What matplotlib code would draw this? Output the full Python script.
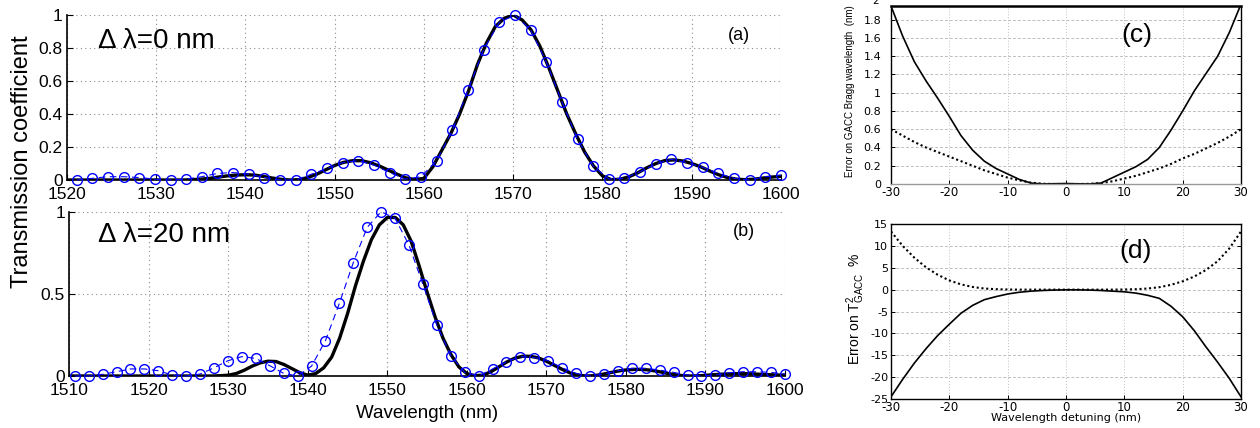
import numpy as np
import matplotlib
matplotlib.use("Agg")
import matplotlib.pyplot as plt

plt.rcParams['font.family'] = ['Liberation Sans', 'DejaVu Sans']
plt.rcParams['axes.unicode_minus'] = False
plt.rcParams['mathtext.fontset'] = 'custom'
plt.rcParams['mathtext.rm'] = 'Liberation Sans'
plt.rcParams['mathtext.it'] = 'Liberation Sans'

# ---------------- data: panel (a), delta lambda = 0 nm ----------------
wl_a = list(range(1520, 1601))
T_a = [0.0, 0.0, 0.0, 0.0, 0.0, 0.0, 0.0, 0.0, 0.0, 0.0,          # 1520-1529
       0.0, 0.0, 0.0, 0.0, 0.002, 0.005, 0.01, 0.018, 0.025, 0.03,  # 1530-1539
       0.032, 0.03, 0.022, 0.012, 0.004, 0.0, 0.002, 0.015, 0.035, 0.062,  # 1540-1549
       0.088, 0.107, 0.117, 0.117, 0.105, 0.085, 0.06, 0.035, 0.013, 0.002,  # 1550-1559
       0.01, 0.08, 0.18, 0.28, 0.40, 0.54, 0.70, 0.83, 0.93, 0.98,  # 1560-1569
       1.0, 0.97, 0.91, 0.81, 0.68, 0.54, 0.40, 0.28, 0.17, 0.085,  # 1570-1579
       0.025, 0.002, 0.005, 0.02, 0.045, 0.075, 0.1, 0.118, 0.122, 0.115,  # 1580-1589
       0.1, 0.08, 0.055, 0.032, 0.015, 0.005, 0.002, 0.005, 0.012, 0.018,  # 1590-1599
       0.022]
circ_wl_a = np.linspace(1521.1, 1600.0, 46)
circ_T_a = [0.0, 0.01, 0.02, 0.02, 0.015, 0.005, 0.0, 0.005, 0.02, 0.04,
            0.045, 0.035, 0.015, 0.0, 0.0, 0.035, 0.07, 0.105, 0.117, 0.09,
            0.045, 0.005, 0.02, 0.117, 0.30, 0.545, 0.79, 0.955, 1.0, 0.91,
            0.717, 0.475, 0.246, 0.085, 0.006, 0.01, 0.05, 0.097, 0.125, 0.105,
            0.077, 0.04, 0.01, 0.0, 0.02, 0.03]

# ---------------- data: panel (b), delta lambda = 20 nm ----------------
wl_b = list(range(1510, 1601))
T_b = [0.0, 0.0, 0.0, 0.0, 0.0, 0.0, 0.0, 0.0, 0.0, 0.0,          # 1510-1519
       0.0, 0.0, 0.0, 0.0, 0.0, 0.0, 0.0, 0.0, 0.0, 0.002,          # 1520-1529
       0.005, 0.015, 0.035, 0.06, 0.08, 0.09, 0.088, 0.07, 0.045, 0.02,  # 1530-1539
       0.005, 0.015, 0.05, 0.115, 0.23, 0.38, 0.55, 0.70, 0.83, 0.92,  # 1540-1549
       0.965, 0.965, 0.92, 0.82, 0.67, 0.51, 0.36, 0.23, 0.13, 0.055,  # 1550-1559
       0.015, 0.002, 0.005, 0.025, 0.055, 0.085, 0.108, 0.12, 0.12, 0.11,  # 1560-1569
       0.09, 0.065, 0.04, 0.018, 0.005, 0.0, 0.002, 0.01, 0.02, 0.03,  # 1570-1579
       0.037, 0.04, 0.04, 0.036, 0.028, 0.018, 0.009, 0.003, 0.0, 0.001,  # 1580-1589
       0.004, 0.008, 0.011, 0.013, 0.014, 0.014, 0.013, 0.01, 0.008, 0.006,  # 1590-1599
       0.005]
circ_wl_b = np.linspace(1510.7, 1600.0, 52)
circ_T_b = [0.0, 0.0, 0.01, 0.026, 0.043, 0.043, 0.032, 0.006, 0.0, 0.012,
            0.05, 0.093, 0.118, 0.107, 0.063, 0.016, 0.0, 0.06, 0.215, 0.442,
            0.69, 0.905, 1.0, 0.96, 0.797, 0.558, 0.31, 0.124, 0.022, 0.0,
            0.043, 0.087, 0.118, 0.112, 0.093, 0.05, 0.016, 0.0, 0.012, 0.032,
            0.047, 0.047, 0.036, 0.022, 0.006, 0.0, 0.006, 0.02, 0.026, 0.026,
            0.022, 0.012]

# ---------------- data: panels (c) and (d) ----------------
detuning = list(range(-30, 31, 2))
err_bragg_solid = [1.95, 1.62, 1.34, 1.13, 0.94, 0.74, 0.53, 0.37, 0.25, 0.17,
                   0.11, 0.05, 0.01, 0.0, 0.003, 0.005, 0.002, 0.0, 0.01, 0.07,
                   0.13, 0.19, 0.27, 0.40, 0.59, 0.80, 1.02, 1.21, 1.40, 1.66, 1.97]
err_bragg_dotted = [0.60, 0.53, 0.46, 0.40, 0.35, 0.30, 0.25, 0.20, 0.15, 0.11,
                    0.07, 0.04, 0.015, 0.003, 0.0, 0.0, 0.0, 0.002, 0.01, 0.03,
                    0.06, 0.09, 0.13, 0.17, 0.22, 0.28, 0.33, 0.39, 0.45, 0.52, 0.60]
err_T_solid = [-24.5, -20.5, -16.8, -13.5, -10.5, -7.9, -5.4, -3.6, -2.3, -1.6,
               -1.0, -0.6, -0.35, -0.2, -0.1, -0.05, -0.05, -0.1, -0.2, -0.35,
               -0.5, -0.8, -1.3, -2.0, -3.8, -6.2, -9.4, -13.1, -16.6, -20.3, -24.5]
err_T_dotted = [13.3, 10.0, 7.3, 5.1, 3.4, 2.1, 1.2, 0.6, 0.25, 0.1,
                0.03, 0.0, 0.0, 0.0, 0.0, 0.0, 0.0, 0.0, 0.0, 0.0,
                0.03, 0.1, 0.25, 0.55, 1.1, 1.9, 3.0, 4.5, 6.5, 9.4, 13.3]

W, H = 1260, 428
fig = plt.figure(figsize=(W / 100, H / 100), dpi=100)


def rect(x0, y0, x1, y1):
    # pixel box (left, top, right, bottom) -> figure fraction rect
    return [x0 / W, 1 - y1 / H, (x1 - x0) / W, (y1 - y0) / H]


def fpos(x, y):
    return x / W, 1 - y / H


def style_ab(ax):
    for s in ('top', 'right'):
        ax.spines[s].set_visible(False)
    ax.spines['left'].set_linewidth(1.2)
    ax.spines['bottom'].set_linewidth(1.2)
    ax.grid(True, color='0.55', linestyle=(0, (1, 3)), linewidth=0.8)
    ax.set_axisbelow(True)
    ax.tick_params(direction='in', length=4, labelsize=12.5, width=0.8)
    ax.tick_params(axis='x', pad=5)
    ax.tick_params(axis='y', pad=3)


# panel (a)
ax_a = fig.add_axes(rect(66.8, 15, 781, 180))
ax_a.plot(wl_a, T_a, color='black', lw=2.4, zorder=3)
ax_a.plot(circ_wl_a, circ_T_a, color='blue', ls=(0, (6, 4)), lw=0.8,
          marker='o', ms=7, mfc='none', mec='blue', mew=1.0, zorder=4, clip_on=False)
ax_a.set_xlim(1520, 1600)
ax_a.set_ylim(0, 1)
ax_a.set_xticks(range(1520, 1601, 10))
ax_a.set_yticks([0, 0.2, 0.4, 0.6, 0.8, 1])
ax_a.set_yticklabels(['0', '0.2', '0.4', '0.6', '0.8', '1'])
style_ab(ax_a)
fig.text(*fpos(98, 48), 'Δ λ=0 nm', fontsize=20, ha='left', va='baseline')
fig.text(*fpos(739, 36), '(a)', fontsize=13, ha='center', va='center')

# panel (b)
ax_b = fig.add_axes(rect(69.2, 211.7, 785, 376))
ax_b.plot(wl_b, T_b, color='black', lw=2.4, zorder=3)
ax_b.plot(circ_wl_b, circ_T_b, color='blue', ls=(0, (6, 4)), lw=0.8,
          marker='o', ms=7, mfc='none', mec='blue', mew=1.0, zorder=4, clip_on=False)
ax_b.set_xlim(1510, 1600)
ax_b.set_ylim(0, 1)
ax_b.set_xticks(range(1510, 1601, 10))
ax_b.set_yticks([0, 0.5, 1])
ax_b.set_yticklabels(['0', '0.5', '1'])
style_ab(ax_b)
fig.text(*fpos(98, 242), 'Δ λ=20 nm', fontsize=20, ha='left', va='baseline')
fig.text(*fpos(744, 231), '(b)', fontsize=13, ha='center', va='center')
fig.text(*fpos(427, 414), 'Wavelength (nm)', fontsize=13.5, ha='center', va='center')
fig.text(*fpos(22, 162), 'Transmission coefficient', fontsize=17, rotation=90,
         ha='center', va='center')


def style_cd(ax):
    for s in ('top', 'left', 'right', 'bottom'):
        ax.spines[s].set_linewidth(1.0)
    ax.xaxis.grid(True, color='0.75', linestyle=(0, (1, 2)), linewidth=0.7)
    ax.yaxis.grid(True, color='0.75', linestyle=(0, (3, 2)), linewidth=0.7)
    ax.set_axisbelow(True)
    ax.tick_params(direction='in', length=3, width=0.7, labelsize=8, pad=2,
                   right=True)
    ax.tick_params(axis='x', labelsize=8.5, pad=1.5)
    for lab in ax.get_xticklabels() + ax.get_yticklabels():
        lab.set_family('DejaVu Sans')


# panel (c)
ax_c = fig.add_axes(rect(891, 6, 1241, 184))
ax_c.plot(detuning, err_bragg_solid, color='black', lw=1.2)
ax_c.plot(detuning, err_bragg_dotted, color='black', lw=1.5, ls=(0, (1, 1.3)))
ax_c.set_xlim(-30, 30)
ax_c.set_ylim(0, 1.95)
ax_c.set_xticks(range(-30, 31, 10))
ax_c.set_yticks([0, 0.2, 0.4, 0.6, 0.8, 1, 1.2, 1.4, 1.6, 1.8])
ax_c.set_yticklabels(['0', '0.2', '0.4', '0.6', '0.8', '1', '1.2', '1.4', '1.6', '1.8'])
style_cd(ax_c)
ax_c.spines['top'].set_linewidth(1.8)
ax_c.spines['bottom'].set_color('0.6')
ax_c.tick_params(axis='y', pad=7)
fig.text(*fpos(876, 1), '2', fontsize=7.5, family='DejaVu Sans', ha='center', va='center')
fig.text(*fpos(1137, 35), '(c)', fontsize=19, ha='center', va='center')
fig.text(*fpos(850, 91), 'Error on GACC Bragg wavelength  (nm)', fontsize=7,
         rotation=90, ha='center', va='center')

# panel (d)
ax_d = fig.add_axes(rect(891, 224, 1241, 399))
ax_d.plot(detuning, err_T_solid, color='black', lw=1.2)
ax_d.plot(detuning, err_T_dotted, color='black', lw=1.5, ls=(0, (1, 1.3)))
ax_d.set_xlim(-30, 30)
ax_d.set_ylim(-25, 15)
ax_d.set_xticks(range(-30, 31, 10))
ax_d.set_yticks(range(-25, 16, 5))
style_cd(ax_d)
fig.text(*fpos(1136, 251), '(d)', fontsize=19, ha='center', va='center')
fig.text(*fpos(1066, 418), 'Wavelength detuning (nm)', fontsize=8,
         family='DejaVu Sans', ha='center', va='center')
fig.text(*fpos(856, 309), r'Error on T$^{2}_{\mathrm{GACC}}$  %', fontsize=10,
         rotation=90, ha='center', va='center')

fig.savefig('out.png', dpi=100)
